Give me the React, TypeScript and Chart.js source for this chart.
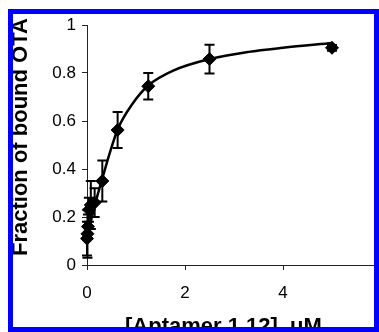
import { useEffect, useRef } from 'react';
import { Chart, registerables } from 'chart.js';

Chart.register(...registerables);

// ---- data ----
const concentrations = [0, 0.0098, 0.0195, 0.039, 0.078, 0.156, 0.3125, 0.625, 1.25, 2.5, 5];
const boundFraction = [0.11, 0.13, 0.16, 0.23, 0.25, 0.26, 0.35, 0.5625, 0.745, 0.858, 0.905];
const errorBars = [0.07, 0.1, 0.05, 0.05, 0.1, 0.06, 0.085, 0.075, 0.055, 0.06, 0.012];

const fitConc = [0, 0.1, 0.2, 0.3125, 0.47, 0.625, 0.94, 1.25, 1.76, 2.5, 3.3, 4, 5];
const fitFraction = [0.11, 0.2, 0.28, 0.36, 0.47, 0.565, 0.675, 0.748, 0.81, 0.858, 0.888, 0.905, 0.925];

const xTicks = [0, 2, 4, 6];
const yTicks = [0, 0.2, 0.4, 0.6, 0.8, 1];
const xTitle = '[Aptamer 1.12], uM';
const yTitle = 'Fraction of bound OTA';

const FONT = "'Liberation Sans', Arial, sans-serif";

const errorBarPlugin = {
  id: 'errorBars',
  afterDatasetsDraw(chart: any) {
    const { ctx, scales } = chart;
    const x = scales.x;
    const y = scales.y;
    ctx.save();
    ctx.strokeStyle = '#000';
    ctx.lineWidth = 2;
    concentrations.forEach((c, i) => {
      const px = x.getPixelForValue(c);
      const top = y.getPixelForValue(boundFraction[i] + errorBars[i]);
      const bot = y.getPixelForValue(boundFraction[i] - errorBars[i]);
      ctx.beginPath();
      ctx.moveTo(px, top);
      ctx.lineTo(px, bot);
      ctx.moveTo(px - 5, top);
      ctx.lineTo(px + 5, top);
      ctx.moveTo(px - 5, bot);
      ctx.lineTo(px + 5, bot);
      ctx.stroke();
    });
    ctx.restore();
  },
};

const titlePlugin = {
  id: 'axisTitles',
  afterDraw(chart: any) {
    const { ctx } = chart;
    ctx.save();
    ctx.fillStyle = '#000';
    ctx.font = `bold 22px ${FONT}`;
    // y title
    ctx.save();
    ctx.translate(21, 256);
    ctx.rotate(-Math.PI / 2);
    ctx.textAlign = 'left';
    ctx.textBaseline = 'middle';
    ctx.fillText(yTitle, 0, 0);
    ctx.restore();
    // x title
    ctx.textAlign = 'left';
    ctx.textBaseline = 'alphabetic';
    ctx.fillText(xTitle, 125, 333);
    ctx.restore();
  },
};

export default function App() {
  const canvasRef = useRef<HTMLCanvasElement | null>(null);

  useEffect(() => {
    const canvas = canvasRef.current;
    if (!canvas) return;
    const W = 400;
    const H = 340;
    const chart = new Chart(canvas, {
      type: 'scatter',
      data: {
        datasets: [
          {
            label: 'fit',
            data: fitConc.map((c, i) => ({ x: c, y: fitFraction[i] })),
            showLine: true,
            borderColor: '#000',
            borderWidth: 2.5,
            pointRadius: 0,
            cubicInterpolationMode: 'monotone',
            clip: false,
          },
          {
            label: 'data',
            data: concentrations.map((c, i) => ({ x: c, y: boundFraction[i] })),
            showLine: false,
            pointStyle: 'rectRot',
            pointRadius: 6.5,
            backgroundColor: '#000',
            borderColor: '#000',
            borderWidth: 1,
            clip: false,
          },
        ],
      },
      options: {
        responsive: false,
        animation: false,
        events: [],
        layout: { padding: { left: 0, right: W - 381, top: 25, bottom: 0 } },
        plugins: { legend: { display: false }, tooltip: { enabled: false } },
        scales: {
          x: {
            type: 'linear',
            min: 0,
            max: 6,
            afterBuildTicks: (s: any) => {
              s.ticks = xTicks.map((v) => ({ value: v }));
            },
            afterFit: (s: any) => {
              s.height = H - 265;
            },
            grid: { display: true, drawOnChartArea: false, drawTicks: true, tickLength: 5, color: '#222' },
            border: { display: true, color: '#222', width: 1 },
            ticks: {
              color: '#000',
              padding: 13,
              font: { family: FONT, size: 17 },
              callback: (v: any) => String(v),
            },
          },
          y: {
            type: 'linear',
            min: 0,
            max: 1,
            afterBuildTicks: (s: any) => {
              s.ticks = yTicks.map((v) => ({ value: v }));
            },
            afterFit: (s: any) => {
              s.width = 87;
            },
            grid: { display: true, drawOnChartArea: false, drawTicks: true, tickLength: 5, color: '#222' },
            border: { display: true, color: '#222', width: 1 },
            ticks: {
              color: '#000',
              padding: 6,
              font: { family: FONT, size: 17 },
              callback: (v: any) => String(Math.round(Number(v) * 10) / 10),
            },
          },
        },
      },
      plugins: [errorBarPlugin, titlePlugin],
    } as any);
    return () => chart.destroy();
  }, []);

  return (
    <div
      style={{
        position: 'fixed',
        left: 8,
        top: 9,
        width: 371,
        height: 323,
        boxSizing: 'border-box',
        border: '5px solid #0000ff',
        overflow: 'hidden',
        background: '#fff',
      }}
    >
      <canvas
        ref={canvasRef}
        width={400}
        height={340}
        style={{ position: 'absolute', left: -13, top: -14 }}
      />
    </div>
  );
}
